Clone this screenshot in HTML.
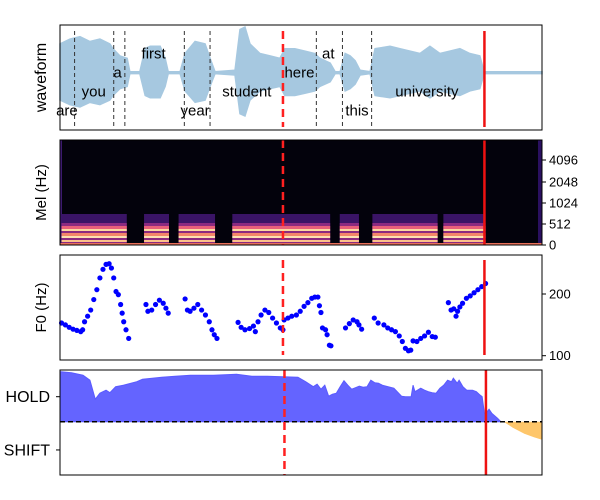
<!DOCTYPE html>
<html><head><meta charset="utf-8">
<style>
body{margin:0;background:#fff;}
svg{display:block;font-family:"Liberation Sans","DejaVu Sans",sans-serif;}
</style></head>
<body>
<svg id="chart" width="600" height="500" viewBox="0 0 600 500" xmlns="http://www.w3.org/2000/svg"></svg>
<script>
// ---- data (time in frames, 0..1256) ----
const wordLabels = ["are","you","a","first","year","student","here","at","this","university"];
const wordCenters = [18,88,150,244,352,487,624,699,774,956];
const wordRows = [3,2,1,0,3,2,1,0,3,2];
const wordBounds = [38,140,169,324,391,668,736,812];
const wfT = [0,26,52,78,104,130,138,156,175,182,208,222,235,261,274,282,313,326,352,378,391,404,456,469,482,495,521,547,573,586,612,638,664,677,704,717,730,743,756,769,782,808,821,860,886,938,964,990,1016,1042,1068,1094,1105,1256];
const wfA = [.6,.7,.75,.65,.7,.6,.5,.35,.3,.02,.02,.5,.55,.55,.3,.02,.02,.4,.65,.6,.3,.02,.05,.9,.95,.6,.4,.35,.3,.5,.5,.45,.4,.3,.2,.02,.02,.4,.35,.25,.05,.02,.5,.55,.5,.4,.55,.4,.45,.5,.4,.35,.02,.02];
const melSegStart = [4,219,309,449,729,814,999];
const melSegEnd = [174,284,404,704,779,984,1109];
const melTicks = ["4096","2048","1024","512","0"];
const f0T = [4,14,24,34,44,54,59,64,72,80,88,96,104,112,120,128,134,140,146,152,158,162,166,172,179,
224,229,239,249,259,269,276,282,
326,332,339,349,359,369,379,389,396,402,409,
464,472,482,494,504,509,516,524,534,544,554,564,574,581,
584,594,604,616,626,636,646,656,664,672,676,680,
684,692,696,702,706,
744,754,764,774,779,786,
819,829,844,854,864,874,884,892,900,908,914,920,930,940,950,960,970,978,
1012,1019,1026,1032,1036,1042,1049,1059,1069,1079,1089,1099,1109];
const f0V = [153,150,146,143,141,139,142,155,164,174,191,207,226,240,248,249,242,226,204,199,183,169,155,142,128,
183,172,174,183,190,185,177,169,
192,174,172,177,183,174,166,155,142,134,128,
154,146,142,144,148,139,155,166,174,170,161,153,145,142,
158,161,164,166,172,180,186,193,195,195,181,170,
145,142,134,117,116,
145,152,158,155,150,143,
161,153,150,145,142,139,132,123,112,108,109,124,123,128,132,138,131,130,
186,174,176,164,172,179,185,193,197,202,207,212,217];
const f0Ticks = [100,200];
const tpT = [0,30,60,78,92,104,120,130,145,165,185,200,215,240,265,300,340,400,460,500,540,580,620,640,660,670,680,690,700,710,720,730,740,750,760,770,780,790,800,810,820,830,840,850,870,890,900,915,920,925,940,950,960,970,980,990,1000,1010,1020,1025,1035,1040,1050,1060,1075,1085,1095,1100,1106,1110,1118,1125,1140,1149];
const tpV = [1.0,.98,.93,.83,.45,.57,.63,.58,.70,.73,.77,.80,.85,.87,.89,.91,.93,.93,.95,.91,.91,.90,.89,.80,.70,.75,.65,.73,.51,.55,.57,.70,.82,.73,.65,.68,.71,.69,.70,.83,.78,.77,.73,.71,.67,.51,.50,.50,.73,.60,.67,.63,.60,.58,.57,.67,.73,.83,.80,.87,.77,.83,.70,.63,.63,.60,.53,.50,.17,.17,.25,.17,.07,0];
const orT = [1156,1180,1210,1235,1256];
const orV = [0,-.12,-.24,-.31,-.36];
const tpTickLabels = ["HOLD","SHIFT"];
const tpTickVals = [0.5,-0.565];
const dashedT = 581, solidT = 1106;

// ---- scales ----
const X0=60,X1=542,TMAX=1256;
const xs=t=>X0+t*(X1-X0)/TMAX;
const P=[{y:25,h:105},{y:140,h:105},{y:255,h:105},{y:370,h:105}];
const wfMid=72.7, wfScale=48;
const yF0=f=>355.7-(f-100)*0.617;
const yTP=v=>421.7-v*50;
const NS="http://www.w3.org/2000/svg";
const svgEl=document.getElementById('chart');
function mk(tag,attrs,parent){const e=document.createElementNS(NS,tag);for(const k in attrs)e.setAttribute(k,attrs[k]);(parent||svgEl).appendChild(e);return e;}

// ---- panel 1: waveform ----
const g1=mk('g',{});


const topPts=[],botPts=[];
for(let i=0;i<wfT.length;i++){topPts.push(xs(wfT[i])+','+(wfMid-wfA[i]*wfScale));botPts.unshift(xs(wfT[i])+','+(wfMid+wfA[i]*wfScale*0.95));}
const wf=mk('polygon',{points:topPts.concat(botPts).join(' '),fill:'#a6c8e0',stroke:'#a6c8e0','stroke-width':1.5},g1);


wordBounds.forEach(t=>{
  const l=mk('line',{x1:xs(t),x2:xs(t),y1:31,y2:127,stroke:'#333','stroke-width':1,'stroke-dasharray':'4,3'},g1);
  
  
});
wordLabels.forEach((w,i)=>{
  const tx=mk('text',{x:xs(wordCenters[i]),y:58.5+wordRows[i]*19,'font-size':15,'text-anchor':'middle',fill:'#000'},g1);
  tx.textContent=w;
  
  
});

// ---- panel 2: mel ----
const g2=mk('g',{});


mk('rect',{x:X0,y:140,width:X1-X0,height:105,fill:'#03020c'},g2);
mk('rect',{x:X0,y:140,width:2,height:105,fill:'#3b1a6e'},g2);
mk('rect',{x:538,y:140,width:4,height:105,fill:'#2a1060'},g2);
melSegStart.forEach((s,i)=>{
  const x=xs(s),w=xs(melSegEnd[i])-x;
  const r=mk('rect',{x:x,y:214,width:w,height:31,fill:'#3a1466'},g2);
  
  
  mk('rect',{x:x,y:223,width:w,height:22,fill:'#8c2a80'},g2);
  [[226,3,'#e8607a'],[229,2,'#fcd9a0'],[233,3,'#f4876a'],[236,2,'#fde2b0'],[240,2,'#fbc18a'],[243,2,'#f9a070']].forEach(b=>mk('rect',{x:x,y:b[0],width:w,height:b[1],fill:b[2]},g2));
});
mk('rect',{x:X0,y:243,width:X1-X0,height:2,fill:'#e8705a'},g2);
const melTickY=[160,182,203,224,245];
melTicks.forEach((lab,i)=>{
  mk('line',{x1:542,x2:546,y1:melTickY[i],y2:melTickY[i],stroke:'#000'},g2);
  const t=mk('text',{x:549,y:melTickY[i]+4.5,'font-size':13,fill:'#000'},g2);t.textContent=lab;
  
  
});

// ---- panel 3: F0 ----
const g3=mk('g',{});


for(let i=0;i<f0T.length;i++){
  const c=mk('circle',{cx:xs(f0T[i]),cy:yF0(f0V[i]),r:2.6,fill:'#0000ff'},g3);
  
  
}
f0Ticks.forEach(v=>{
  mk('line',{x1:542,x2:546,y1:yF0(v),y2:yF0(v),stroke:'#000'},g3);
  const t=mk('text',{x:549,y:yF0(v)+4.5,'font-size':13,fill:'#000'},g3);t.textContent=v;
  
  
});

// ---- panel 4: turn prediction ----
const g4=mk('g',{});


const hp=[xs(tpT[0])+','+yTP(0)];
for(let i=0;i<tpT.length;i++)hp.push(xs(tpT[i])+','+yTP(tpV[i]));
hp.push(xs(tpT[tpT.length-1])+','+yTP(0));
const ha=mk('polygon',{points:hp.join(' '),fill:'#6464ff',stroke:'#5a5aff','stroke-width':1},g4);


const op=[xs(orT[0])+','+yTP(0)];
for(let i=0;i<orT.length;i++)op.push(xs(orT[i])+','+yTP(orV[i]));
op.push(xs(orT[orT.length-1])+','+yTP(0));
const sa=mk('polygon',{points:op.join(' '),fill:'#fec66a'},g4);


const zl=mk('line',{x1:X0,x2:X1,y1:yTP(0),y2:yTP(0),stroke:'#000','stroke-width':1.5,'stroke-dasharray':'5,3'},g4);


tpTickLabels.forEach((lab,i)=>{
  const y=yTP(tpTickVals[i]);
  mk('line',{x1:56,x2:60,y1:y,y2:y,stroke:'#000'},g4);
  const t=mk('text',{x:50,y:y+5.5,'font-size':16,'text-anchor':'end',fill:'#000'},g4);t.textContent=lab;
  
  
});

// ---- red markers ----
const redSpans=[[31,127,0],[140,245,0],[260,355,0],[370,475,1]];
redSpans.forEach(s=>{
  const d=mk('line',{x1:xs(dashedT)+s[2]*1.5,x2:xs(dashedT)+s[2]*1.5,y1:s[0],y2:s[1],stroke:'#ff2020','stroke-width':2.5,'stroke-dasharray':'8,5'});
  
  
  const l=mk('line',{x1:xs(solidT)+s[2]*1.5,x2:xs(solidT)+s[2]*1.5,y1:s[0],y2:s[1],stroke:'#ee1111','stroke-width':2.5});
  
  
});

// ---- frames & y labels ----
P.forEach((p,i)=>{
  const r=mk('rect',{x:X0,y:p.y,width:X1-X0,height:p.h,fill:'none',stroke:'#000','stroke-width':1});
  
  
});
[["waveform",77.5,16],["Mel (Hz)",192.5,15],["F0 (Hz)",307.5,15]].forEach(a=>{
  const t=mk('text',{x:0,y:0,'font-size':a[2],'text-anchor':'middle',fill:'#000',transform:'translate(46,'+a[1]+') rotate(-90)'});
  t.textContent=a[0];
  
  
});
</script>
</body></html>
